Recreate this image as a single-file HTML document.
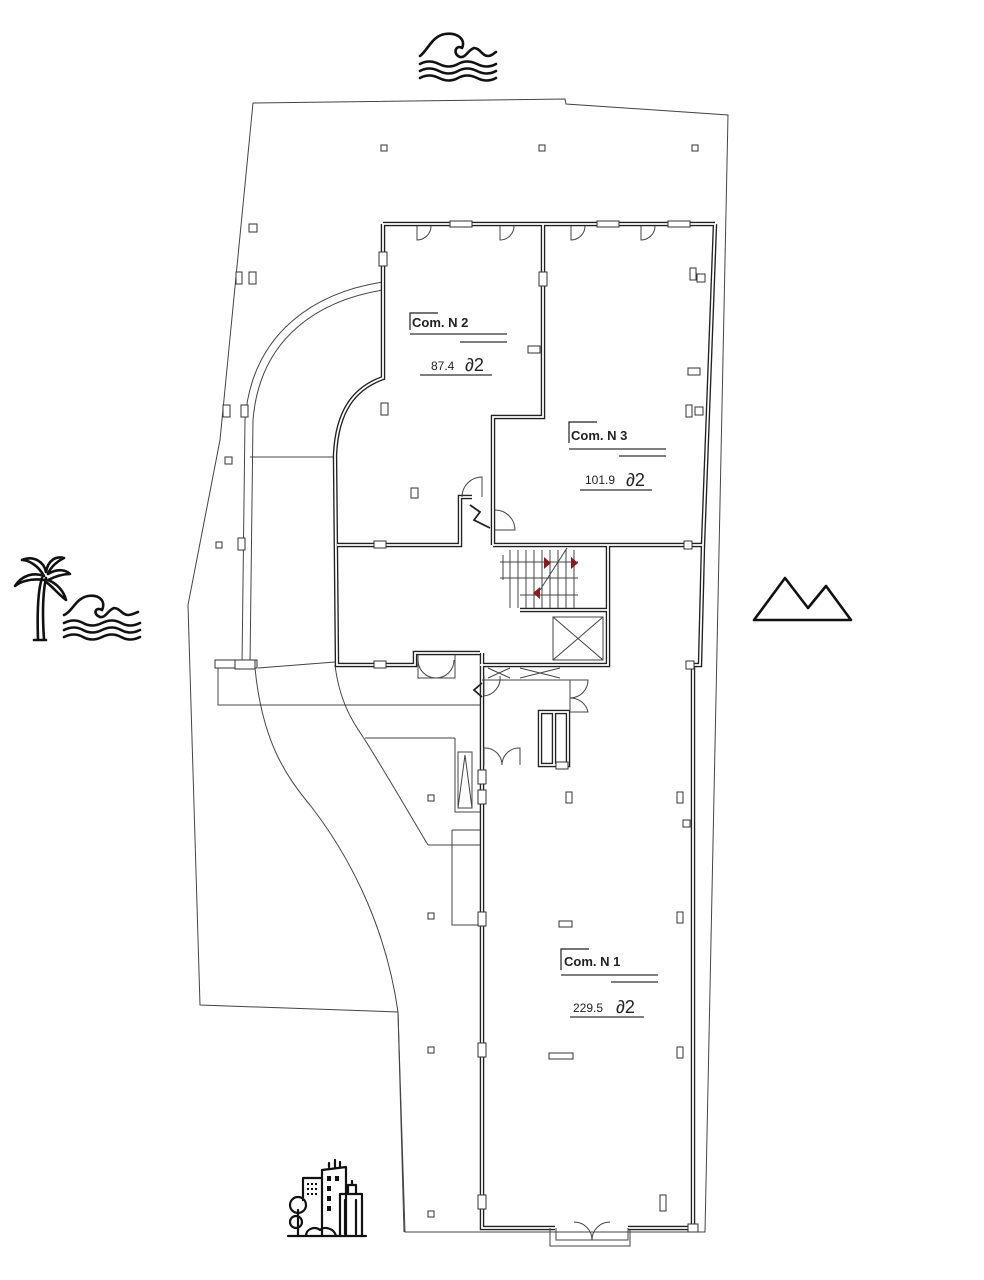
<!DOCTYPE html>
<html><head><meta charset="utf-8"><style>
html,body{margin:0;padding:0;background:#fff}
svg{display:block}
text{font-family:"Liberation Sans",sans-serif;fill:#222}
.t{stroke:#444;stroke-width:1;fill:none}
.w{stroke:#222;stroke-width:5;fill:none;stroke-linejoin:miter}
.wi{stroke:#fff;stroke-width:2;fill:none}
.ic{stroke:#111;stroke-width:2.6;fill:none;stroke-linecap:round;stroke-linejoin:round}
.sq{fill:#fff;stroke:#333;stroke-width:1}
</style></head><body>
<svg width="984" height="1280" viewBox="0 0 984 1280" xmlns="http://www.w3.org/2000/svg">
<rect width="984" height="1280" fill="#fff"/>
<path class="t" d="M253,103 L565,99 L566,104 L728,115 L705,1232 L405,1232 L398,1012 L200,1005 L188,605 L220,440 Z"/>
<path class="t" d="M255,668 C262,740 285,775 310,805 C345,850 385,920 398,1012 L404,1232"/>
<path class="t" d="M335,665 C340,705 355,725 365,740 C390,780 410,815 428,845"/>
<path class="t" d="M365,738 L455,738 M428,845 L480,845 M452,830 L480,830 M452,830 L452,925 L480,925"/>
<path class="t" d="M218,665 L218,705 L480,705 M258,668 L335,662 M250,457 L333,457"/>
<path class="t" d="M455,738 L455,812 L482,812"/>
<path class="t" d="M458,752 L472,752 L472,808 L458,808 Z M458,808 L465,755 L472,808"/>
<path class="t" d="M383,282 C318,292 252,330 245,420 L242,665"/>
<path class="t" d="M383,290 C322,300 260,335 253,420 L250,665"/>
<rect class="sq" x="215" y="660" width="42" height="8"/>
<rect class="sq" x="235" y="660" width="20" height="9"/>
<path class="w" d="M383,224 L715,224 M383,224 L383,378 C355,388 337,410 335,455 L337,665 L415,665 L415,653 L480,653 M337,545 L460,545 L460,497 L472,497 M543,224 L543,417 L493,417 L493,545 M493,545 L703,545 M715,224 L703,545 L700,665 L693,665 L693,1228 L628,1228 M482,653 L482,1228 L555,1228 M608,545 L608,665 L480,665 M520,610 L608,610 M540,712 L540,765 L568,765 L568,712 Z M554,712 L554,765" style="stroke-width:4.5"/>
<path class="wi" d="M383,224 L715,224 M383,224 L383,378 C355,388 337,410 335,455 L337,665 L415,665 L415,653 L480,653 M337,545 L460,545 L460,497 L472,497 M543,224 L543,417 L493,417 L493,545 M493,545 L703,545 M715,224 L703,545 L700,665 L693,665 L693,1228 L628,1228 M482,653 L482,1228 L555,1228 M608,545 L608,665 L480,665 M520,610 L608,610 M540,712 L540,765 L568,765 L568,712 Z M554,712 L554,765" style="stroke-width:1.8"/>
<path class="t" d="M417,226 L417,240 A14,14 0 0 0 431,226 M500,226 L500,240 A14,14 0 0 0 514,226 M571,226 L571,240 A14,14 0 0 0 585,226 M641,226 L641,240 A14,14 0 0 0 655,226"/>
<path class="t" d="M462,497 A20,20 0 0 1 482,477 L482,497 M495,530 L515,530 A20,20 0 0 0 495,510"/>
<path class="t" d="M418,655 L418,678 L455,678 L455,655 M436,678 A18,18 0 0 1 418,660 M436,678 A18,18 0 0 0 454,660"/>
<path class="t" d="M484,676 L484,696 A18,18 0 0 0 500,676 M570,680 L588,680 A18,18 0 0 1 570,698 M570,712 L588,712 A18,18 0 0 0 570,698 M570,680 L570,712"/>
<path class="t" d="M484,765 L484,748 A17,17 0 0 1 502,765 M520,765 L520,748 A17,17 0 0 0 502,765 M482,680 L570,680"/>
<path class="t" d="M556,1228 L556,1240 L628,1240 L628,1228 M592,1240 A18,18 0 0 0 574,1222 M592,1240 A18,18 0 0 1 610,1222 M550,1228 L550,1246 L630,1246 L630,1230"/>
<path d="M470,505 L480,512 L474,520 L490,528" stroke="#222" stroke-width="1.8" fill="none"/>
<path d="M482,683 L474,690 L482,697" stroke="#222" stroke-width="1.8" fill="none"/>
<g class="t">
<path d="M503,555 L503,580 M510,550 L510,608 M518,550 L518,608 M526,550 L526,608 M534,550 L534,608 M542,550 L542,608 M550,550 L550,608 M558,550 L558,608 M566,550 L566,608 M574,550 L574,608 M500,562 L578,562 M500,578 L578,578 M520,595 L578,595 M540,590 L567,548"/>
<rect x="553" y="617" width="50" height="43"/>
<path d="M553,617 L603,660 M603,617 L553,660"/>
<path d="M488,668 L510,678 M510,668 L488,678 M520,668 L560,678 M560,668 L520,678"/>
</g>
<path d="M544,557 L551,563 L544,569 Z M571,557 L578,563 L571,569 Z M540,587 L533,593 L540,599 Z" fill="#8a1c1c"/>
<g class="sq">
<rect x="381" y="145" width="6" height="6"/><rect x="539" y="145" width="6" height="6"/><rect x="692" y="145" width="6" height="6"/>
<rect x="249" y="224" width="8" height="8"/><rect x="236" y="272" width="6" height="12"/><rect x="249" y="272" width="7" height="12"/>
<rect x="223" y="405" width="7" height="12"/><rect x="241" y="405" width="7" height="12"/><rect x="225" y="457" width="7" height="7"/>
<rect x="216" y="542" width="6" height="6"/><rect x="238" y="538" width="7" height="12"/>
<rect x="428" y="795" width="6" height="6"/><rect x="428" y="913" width="6" height="6"/><rect x="428" y="1047" width="6" height="6"/><rect x="428" y="1211" width="6" height="6"/>
<rect x="690" y="268" width="6" height="12"/><rect x="686" y="405" width="6" height="12"/><rect x="381" y="403" width="7" height="12"/><rect x="411" y="488" width="7" height="10"/>
<rect x="566" y="792" width="6" height="11"/><rect x="677" y="792" width="6" height="11"/><rect x="677" y="912" width="6" height="11"/><rect x="677" y="1047" width="6" height="11"/><rect x="660" y="1195" width="6" height="16"/>
<rect x="559" y="921" width="13" height="6"/><rect x="549" y="1053" width="24" height="6"/>
<rect x="528" y="346" width="12" height="7"/><rect x="688" y="368" width="12" height="7"/><rect x="683" y="820" width="7" height="7"/><rect x="556" y="762" width="12" height="7"/>
<rect x="374" y="541" width="12" height="7"/><rect x="374" y="661" width="12" height="7"/><rect x="379" y="252" width="8" height="14"/><rect x="539" y="272" width="8" height="14"/><rect x="697" y="274" width="8" height="8"/><rect x="695" y="407" width="8" height="8"/>
<rect x="478" y="770" width="8" height="14"/><rect x="478" y="790" width="8" height="14"/><rect x="478" y="912" width="8" height="14"/><rect x="478" y="1043" width="8" height="14"/><rect x="478" y="1195" width="8" height="14"/>
<rect x="450" y="221" width="22" height="6"/><rect x="597" y="221" width="22" height="6"/><rect x="668" y="221" width="22" height="6"/><rect x="688" y="1224" width="10" height="8"/><rect x="684" y="541" width="8" height="8"/><rect x="686" y="661" width="8" height="8"/>
</g>
<path d="M410,330 L410,313 L438,313" stroke="#222" stroke-width="1.2" fill="none"/>
<text x="412" y="327" font-size="13" font-weight="bold">Com. N 2</text>
<path d="M410,334 L507,334 M460,342 L507,342 M420,375 L492,375" stroke="#333" stroke-width="1.2"/>
<text x="431" y="370" font-size="12">87.4</text><text x="465" y="371" font-size="18">∂2</text>
<path d="M569,443 L569,422 L597,422" stroke="#222" stroke-width="1.2" fill="none"/>
<text x="571" y="440" font-size="13" font-weight="bold">Com. N 3</text>
<path d="M569,449 L666,449 M619,456 L666,456 M580,490 L652,490" stroke="#333" stroke-width="1.2"/>
<text x="585" y="484" font-size="12">101.9</text><text x="626" y="486" font-size="18">∂2</text>
<path d="M561,970 L561,949 L589,949" stroke="#222" stroke-width="1.2" fill="none"/>
<text x="564" y="966" font-size="13" font-weight="bold">Com. N 1</text>
<path d="M561,975 L658,975 M611,982 L658,982 M570,1017 L644,1017" stroke="#333" stroke-width="1.2"/>
<text x="573" y="1012" font-size="12">229.5</text><text x="616" y="1013" font-size="18">∂2</text>
<g class="ic">
<path d="M420,56 C428,50 432,36 445,34 C458,32 466,40 462,48 C456,44 452,54 460,57 C466,58 468,50 474,48 C480,48 482,56 488,56 C492,56 494,53 496,52"/>
<path d="M420,64 q9,-5 19,0 t19,0 t19,0 t19,0 M420,71 q9,-5 19,0 t19,0 t19,0 t19,0 M420,78 q9,-5 19,0 t19,0 t19,0 t19,0"/>
</g>
<g class="ic">
<path d="M34,640 L46,640 M38,639 C37,610 38,590 42,578 M44,639 C42,610 43,592 46,578"/>
<path d="M44,580 C30,578 20,582 15,586 C22,575 34,572 44,576 C38,565 28,560 22,560 C34,555 44,562 46,572 C48,560 56,556 64,558 C56,562 50,568 48,574 C58,568 66,570 70,574 C60,574 52,578 48,580 C58,584 64,592 66,600 C58,594 52,586 46,582"/>
<path d="M64,615 C72,612 76,598 88,596 C100,594 106,602 102,610 C96,606 92,614 100,617 C106,618 108,610 114,608 C120,608 122,615 128,615 C132,615 135,613 138,612"/>
<path d="M64,623 q10,-5 19,0 t19,0 t19,0 t19,0 M64,630 q10,-5 19,0 t19,0 t19,0 t19,0 M64,637 q10,-5 19,0 t19,0 t19,0 t19,0"/>
</g>
<g class="ic"><path d="M754,620 L785,578 L808,608 L826,586 L851,620 Z"/></g>
<g class="ic" style="stroke-width:2.2">
<path d="M288,1236 L366,1236"/>
<path d="M322,1236 L322,1170 L346,1167 L346,1236 M303,1200 L303,1178 L322,1178"/>
<path d="M335,1167 L335,1160 M340,1167 L340,1162 M329,1167 L329,1163"/>
<path d="M340,1236 L340,1194 L362,1194 L362,1236 M345,1200 L345,1234 M356,1200 L356,1234 M348,1194 L348,1185 L356,1185 L356,1194 M352,1185 L352,1181"/>
<circle cx="298" cy="1205" r="8"/><circle cx="296" cy="1222" r="6"/><path d="M298,1236 L298,1210"/>
<path d="M306,1236 C306,1228 316,1226 320,1230 C324,1226 334,1228 336,1236"/>
</g>
<g fill="#111"><rect x="327" y="1176" width="4" height="5"/><rect x="335" y="1176" width="4" height="5"/><rect x="327" y="1186" width="4" height="5"/><rect x="327" y="1196" width="4" height="5"/><rect x="327" y="1206" width="4" height="5"/>
<rect x="307" y="1183" width="2" height="2"/><rect x="311" y="1183" width="2" height="2"/><rect x="315" y="1183" width="2" height="2"/><rect x="307" y="1188" width="2" height="2"/><rect x="311" y="1188" width="2" height="2"/><rect x="315" y="1188" width="2" height="2"/><rect x="307" y="1193" width="2" height="2"/><rect x="311" y="1193" width="2" height="2"/><rect x="315" y="1193" width="2" height="2"/></g>
</svg>
</body></html>
